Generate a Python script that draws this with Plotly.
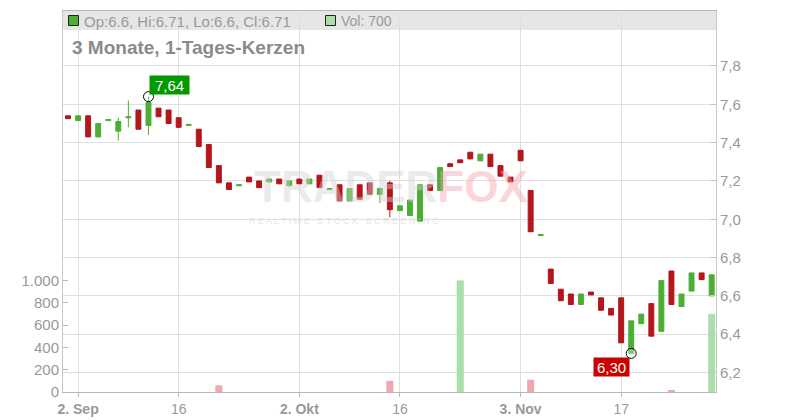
import pandas as pd
import plotly.graph_objects as go

# ---- data ----
dates = [d.strftime("%Y-%m-%d") for d in pd.bdate_range("2025-09-01", "2025-11-28")]

opens = [7.54, 7.515, 7.54, 7.43, 7.515, 7.46, 7.53, 7.57, 7.49, 7.58,
         7.57, 7.53, 7.49, 7.47, 7.39, 7.28, 7.19, 7.175, 7.22, 7.20,
         7.195, 7.21, 7.175, 7.21, 7.185, 7.23, 7.155, 7.18, 7.095, 7.18,
         7.19, 7.13, 7.19, 7.045, 7.02, 6.99, 7.18, 7.15, 7.29, 7.31,
         7.35, 7.305, 7.34, 7.28, 7.22, 7.36, 7.15, 6.915, 6.74, 6.635,
         6.61, 6.555, 6.62, 6.59, 6.535, 6.59, 6.30, 6.455, 6.56, 6.415,
         6.73, 6.545, 6.625, 6.72, 6.60]
closes = [7.525, 7.54, 7.43, 7.50, 7.52, 7.51, 7.535, 7.47, 7.61, 7.535,
          7.50, 7.48, 7.495, 7.38, 7.27, 7.19, 7.155, 7.18, 7.195, 7.165,
          7.21, 7.185, 7.20, 7.185, 7.21, 7.165, 7.16, 7.095, 7.16, 7.105,
          7.13, 7.16, 7.05, 7.07, 7.10, 7.18, 7.15, 7.27, 7.275, 7.295,
          7.315, 7.34, 7.275, 7.225, 7.195, 7.305, 6.935, 6.92, 6.665, 6.575,
          6.555, 6.61, 6.605, 6.525, 6.50, 6.355, 6.47, 6.505, 6.39, 6.68,
          6.555, 6.61, 6.72, 6.685, 6.71]
# highs / lows where a wick is visible (others equal to body)
wick_high = {5: 7.53, 6: 7.62, 8: 7.64, 31: 7.165, 32: 7.20}
wick_low = {5: 7.41, 6: 7.48, 8: 7.44, 31: 7.085, 32: 7.01, 56: 6.30}
highs = [wick_high.get(i, max(o, c)) for i, (o, c) in enumerate(zip(opens, closes))]
lows = [wick_low.get(i, min(o, c)) for i, (o, c) in enumerate(zip(opens, closes))]

volume_nonzero = {15: 60, 32: 100, 39: 1000, 46: 110, 60: 10, 64: 700}
volumes = [volume_nonzero.get(i, 0) for i in range(len(dates))]

tick_dates = ["2025-09-02", "2025-09-16", "2025-10-02", "2025-10-16", "2025-11-03", "2025-11-17"]
tick_labels = ["<b>2. Sep</b>", "16", "<b>2. Okt</b>", "16", "<b>3. Nov</b>", "17"]
price_ticks = [6.2, 6.4, 6.6, 6.8, 7.0, 7.2, 7.4, 7.6, 7.8]
vol_ticks = [0, 200, 400, 600, 800, 1000]

GREEN = "#4cae34"
RED = "#b3161b"
VOL_GREEN = "#aadeaa"
VOL_RED = "#f0a8b0"
GRID = "#e0e0e0"
TXT = "#999999"

vol_colors = []
for i, c in enumerate(closes):
    prev = closes[i - 1] if i > 0 else opens[0]
    vol_colors.append(VOL_GREEN if c >= prev else VOL_RED)

fig = go.Figure()

fig.add_trace(go.Bar(
    x=dates, y=volumes, marker=dict(color=vol_colors, line=dict(width=0)),
    width=0.7, yaxis="y2", hoverinfo="skip", showlegend=False))

fig.add_trace(go.Candlestick(
    x=dates, open=opens, high=highs, low=lows, close=closes,
    increasing=dict(line=dict(color=GREEN, width=1), fillcolor=GREEN),
    decreasing=dict(line=dict(color=RED, width=1), fillcolor=RED),
    whiskerwidth=0, showlegend=False, yaxis="y"))

# high / low markers
hi_i = highs.index(max(highs))
lo_i = lows.index(min(lows))
fig.add_trace(go.Scatter(
    x=[dates[hi_i], dates[lo_i]], y=[highs[hi_i], lows[lo_i]], mode="markers",
    marker=dict(size=10, color="rgba(255,255,255,0.3)", line=dict(color="#000", width=1)),
    showlegend=False, hoverinfo="skip"))

fig.add_annotation(x=dates[hi_i], y=highs[hi_i], text=f"{highs[hi_i]:.2f}".replace(".", ","),
                   showarrow=False, xanchor="left", yanchor="bottom", xshift=1, yshift=2,
                   width=37, height=16, align="center",
                   bgcolor="#009a00", font=dict(color="white", size=15, family="Liberation Sans"),
                   borderpad=1)
fig.add_annotation(x=dates[lo_i], y=lows[lo_i], text=f"{lows[lo_i]:.2f}".replace(".", ","),
                   showarrow=False, xanchor="right", yanchor="top", xshift=-1, yshift=-4,
                   width=33, height=16, align="center",
                   bgcolor="#cc0000", font=dict(color="white", size=15, family="Liberation Sans"),
                   borderpad=1)

# watermark
fig.add_annotation(x=0.502, y=0.54, xref="paper", yref="paper", showarrow=False,
                   text="<b><span style='color:rgba(210,210,210,0.45)'>TRADER</span>"
                        "<span style='color:rgba(245,160,170,0.45)'>FOX</span></b>",
                   font=dict(size=44, family="Liberation Sans"))
fig.add_annotation(x=0.43, y=0.448, xref="paper", yref="paper", showarrow=False,
                   text="R E A L T I M E   S T O C K   S C R E E N I N G",
                   font=dict(size=9, family="Liberation Sans", color="rgba(210,210,210,0.6)"))

# header band
PW = 653.0
PH = 381.0
def px(x):
    return (x - 63) / PW
def py(y):
    return 1 - (y - 11) / PH

shapes = [
    dict(type="rect", xref="paper", yref="paper", x0=0, x1=1, y0=py(30), y1=1,
         fillcolor="#e6e6e6", line=dict(width=0), layer="below"),
    dict(type="rect", xref="paper", yref="paper", x0=px(68.5), x1=px(78.5), y0=py(25.5), y1=py(15.5),
         fillcolor=GREEN, line=dict(color="#222", width=1)),
    dict(type="rect", xref="paper", yref="paper", x0=px(325.5), x1=px(335.5), y0=py(25.5), y1=py(15.5),
         fillcolor=VOL_GREEN, line=dict(color="#222", width=1)),
]
fig.update_layout(shapes=shapes)

fig.add_annotation(x=px(82), y=py(21), xref="paper", yref="paper", showarrow=False,
                   xanchor="left", yanchor="middle",
                   text=f"Op:{opens[-1]:g}, Hi:{highs[-1]:g}, Lo:{lows[-1]:g}, Cl:{closes[-1]:g}",
                   font=dict(size=15, color=TXT, family="Liberation Sans"))
fig.add_annotation(x=px(339), y=py(21), xref="paper", yref="paper", showarrow=False,
                   xanchor="left", yanchor="middle", text=f"Vol: {volumes[-1]}",
                   font=dict(size=14, color=TXT, family="Liberation Sans"))
fig.add_annotation(x=px(70), y=py(47), xref="paper", yref="paper", showarrow=False,
                   xanchor="left", yanchor="middle", text="<b>3 Monate, 1-Tages-Kerzen</b>",
                   font=dict(size=19, color="#8a8a8a", family="Liberation Sans"))

fig.update_layout(
    width=800, height=420,
    margin=dict(l=63, r=84, t=11, b=28, autoexpand=False),
    paper_bgcolor="white", plot_bgcolor="white",
    font=dict(family="Liberation Sans", color=TXT, size=14),
    xaxis=dict(type="category", range=[-0.5, 64.43], rangeslider=dict(visible=False),
               tickmode="array", tickvals=tick_dates, ticktext=tick_labels,
               showgrid=True, gridcolor=GRID, gridwidth=1, automargin=False,
               showline=True, linecolor="#b8b8b8", linewidth=1, mirror=True,
               ticks="outside", ticklen=4, tickcolor="#b8b8b8",
               tickfont=dict(size=14, color=TXT), zeroline=False),
    yaxis=dict(side="right", range=[6.0985, 8.087], tickmode="array", tickvals=price_ticks,
               ticktext=[f"{v:.1f}".replace(".", ",") for v in price_ticks],
               showgrid=True, gridcolor=GRID, gridwidth=1, zeroline=False, automargin=False,
               showline=True, linecolor="#c8c8c8", linewidth=1,
               ticks="inside", ticklen=6, tickcolor="#c8c8c8",
               tickfont=dict(size=15, color=TXT)),
    yaxis2=dict(overlaying="y", side="left", range=[0, 3414], tickmode="array",
                tickvals=vol_ticks, ticktext=["0", "200", "400", "600", "800", "1.000"],
                showgrid=False, zeroline=False, showline=True, linecolor="#c8c8c8",
                automargin=False,
                ticks="inside", ticklen=5, tickcolor="#b8b8b8",
                tickfont=dict(size=15, color=TXT)),
    bargap=0.3,
)

fig.write_html("out.html", config={"displayModeBar": False},
               post_script="document.body.style.margin='0';document.body.style.padding='0';"
                           "document.documentElement.style.overflow='hidden';")
